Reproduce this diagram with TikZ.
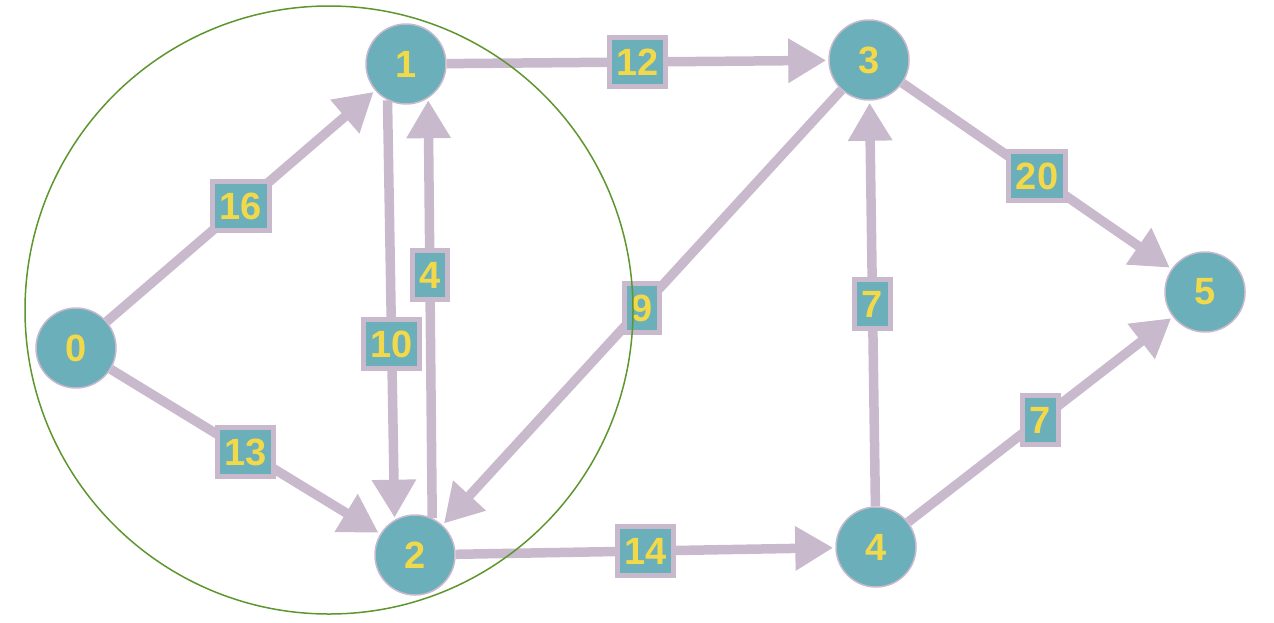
\documentclass[tikz,border=0pt]{standalone}
\usepackage{fontspec}
\setmainfont{Liberation Sans}
\usetikzlibrary{arrows.meta,backgrounds}
\definecolor{tealc}{HTML}{6AAFB9}
\definecolor{lav}{HTML}{C9B9CD}
\definecolor{yel}{HTML}{F2D94A}
\definecolor{grn}{HTML}{5E962E}
\begin{document}
\begin{tikzpicture}[x=1pt,y=-1pt,
 vertex/.style={circle,fill=tealc,draw=lav,line width=1.5pt,minimum size=80pt,inner sep=0pt,text=yel,font=\fontsize{38}{40}\selectfont\bfseries},
 wlabel/.style={fill=tealc,draw=lav,line width=5pt,inner xsep=7pt,inner ysep=11pt,text height=27pt,text depth=0pt,text=yel,font=\fontsize{38}{40}\selectfont\bfseries},
 edge/.style={draw=lav,line width=9.5pt,-{Triangle[length=38pt,width=42pt]},shorten >=2pt}
]
\useasboundingbox (0,0) rectangle (1274,622);
\node[vertex] (n0) at (76,348) {0};
\node[vertex] (n1) at (406,64) {1};
\node[vertex] (n2) at (415,555) {2};
\node[vertex] (n3) at (869,60) {3};
\node[vertex] (n4) at (876,547) {4};
\node[vertex] (n5) at (1205,292) {5};
\begin{pgfonlayer}{background}
\draw[edge] (n0) -- node[wlabel] (l16) {16} (n1);
\draw[edge] (n0) -- node[wlabel] (l13) {13} (n2);
\draw[edge] (n1.-117) -- node[wlabel,pos=0.58] (l10) {10} (n2.120);
\draw[edge] (n2.65) -- node[wlabel,pos=0.58] (l4) {4} (n1.-57);
\draw[edge] (n1) -- node[wlabel] (l12) {12} (n3);
\draw[edge] (n3) -- node[wlabel] (l9) {9} (n2);
\draw[edge] (n2) -- node[wlabel] (l14) {14} (n4);
\draw[edge] (n4) -- node[wlabel] (l7a) {7} (n3);
\draw[edge] (n3) -- node[wlabel] (l20) {20} (n5);
\draw[edge] (n4) -- node[wlabel] (l7b) {7} (n5);
\end{pgfonlayer}
\node[circle,draw=grn,line width=1.5pt,minimum size=608pt,inner sep=0pt] (cut) at (329,310) {};
\end{tikzpicture}
\end{document}
